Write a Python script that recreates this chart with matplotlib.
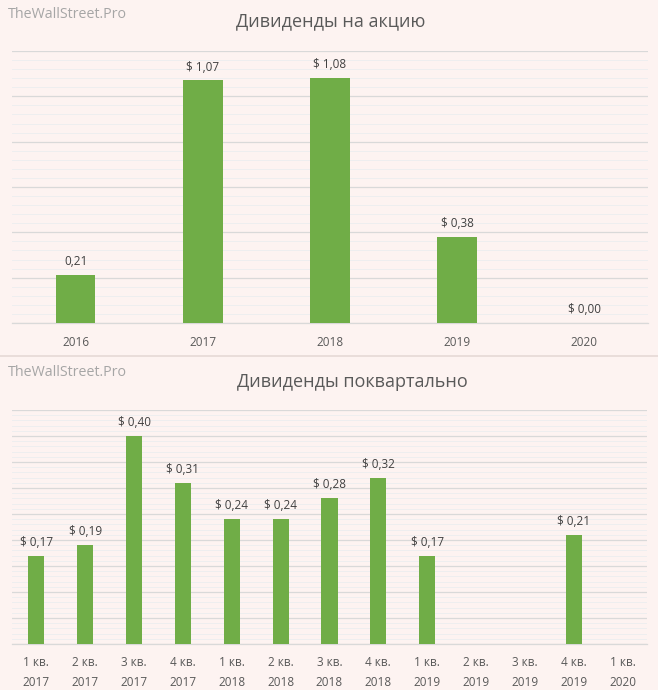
import matplotlib
matplotlib.use("Agg")
import matplotlib.pyplot as plt
from matplotlib.ticker import MultipleLocator
from matplotlib.lines import Line2D

plt.rcParams['font.family'] = ['Open Sans', 'DejaVu Sans']

# ---- data ----
years = ["2016", "2017", "2018", "2019", "2020"]
annual_values = [0.21, 1.07, 1.08, 0.38, 0.00]
annual_labels = ["0,21", "$ 1,07", "$ 1,08", "$ 0,38", "$ 0,00"]

quarters = ["1 кв.\n2017", "2 кв.\n2017", "3 кв.\n2017", "4 кв.\n2017",
            "1 кв.\n2018", "2 кв.\n2018", "3 кв.\n2018", "4 кв.\n2018",
            "1 кв.\n2019", "2 кв.\n2019", "3 кв.\n2019", "4 кв.\n2019",
            "1 кв.\n2020"]
quarter_values = [0.17, 0.19, 0.40, 0.31, 0.24, 0.24, 0.28, 0.32, 0.17,
                  None, None, 0.21, None]
quarter_labels = ["$ 0,17", "$ 0,19", "$ 0,40", "$ 0,31", "$ 0,24", "$ 0,24",
                  "$ 0,28", "$ 0,32", "$ 0,17", "", "", "$ 0,21", ""]

BG = "#FDF3F1"
GREEN = "#70AD47"
MAJOR = "#D9D9D9"
MINOR = "#EEEEEF"
TXT = "#595959"
LBL = "#404040"
WM = "#A6A6A6"

W, H = 658, 690
fig = plt.figure(figsize=(W / 100, H / 100), dpi=100, facecolor=BG)


def ax_rect(left, top, right, bottom):
    return [left / W, 1 - bottom / H, (right - left) / W, (bottom - top) / H]


def style(ax, ymax, major, minor):
    ax.set_facecolor(BG)
    ax.set_ylim(0, ymax)
    ax.yaxis.set_major_locator(MultipleLocator(major))
    ax.yaxis.set_minor_locator(MultipleLocator(minor))
    ax.grid(True, which='minor', axis='y', color=MINOR, lw=0.7, zorder=0)
    ax.grid(True, which='major', axis='y', color=MAJOR, lw=0.9, zorder=0)
    ax.set_axisbelow(True)
    for s in ['top', 'right', 'left']:
        ax.spines[s].set_visible(False)
    ax.spines['bottom'].set_color(MAJOR)
    ax.spines['bottom'].set_linewidth(0.9)
    ax.tick_params(axis='y', which='both', left=False, labelleft=False)
    ax.tick_params(axis='x', length=0, colors=TXT, labelsize=8.5)


# ---- top chart ----
ax1 = fig.add_axes(ax_rect(12, 51, 648, 323))
style(ax1, 1.2, 0.2, 0.04)
x1 = list(range(len(years)))
ax1.bar(x1, annual_values, width=0.31, color=GREEN, zorder=3)
ax1.set_xlim(-0.5, len(years) - 0.5)
ax1.set_xticks(x1)
ax1.set_xticklabels(years)
ax1.tick_params(axis='x', pad=9)
for xi, v, t in zip(x1, annual_values, annual_labels):
    ax1.annotate(t, (xi, v), xytext=(0, 5), textcoords='offset points',
                 ha='center', va='bottom', fontsize=8.5, color=LBL)

fig.text(331 / W, 1 - 21 / H, "Дивиденды на акцию", ha='center', va='center',
         fontsize=13, color=TXT)
fig.text(8 / W, 1 - 14 / H, "TheWallStreet.Pro", ha='left', va='center',
         fontsize=10.3, color=WM)

# separator
fig.add_artist(Line2D([0, 1], [1 - 356 / H, 1 - 356 / H], color="#E6D9D6",
                      lw=1.2, transform=fig.transFigure))

# ---- bottom chart ----
ax2 = fig.add_axes(ax_rect(12, 410, 647, 644))
style(ax2, 0.45, 0.05, 0.01)
x2 = list(range(len(quarters)))
qv = [v if v is not None else 0 for v in quarter_values]
ax2.bar(x2, qv, width=0.33, color=GREEN, zorder=3)
ax2.set_xlim(-0.5, len(quarters) - 0.5)
ax2.set_xticks(x2)
ax2.set_xticklabels(quarters, linespacing=1.6)
ax2.tick_params(axis='x', pad=9)
for xi, v, t in zip(x2, qv, quarter_labels):
    if t:
        ax2.annotate(t, (xi, v), xytext=(0, 5), textcoords='offset points',
                     ha='center', va='bottom', fontsize=8.5, color=LBL)

fig.text(352 / W, 1 - 382 / H, "Дивиденды поквартально", ha='center',
         va='center', fontsize=13, color=TXT)
fig.text(8 / W, 1 - 373 / H, "TheWallStreet.Pro", ha='left', va='center',
         fontsize=10.3, color=WM)

fig.savefig("out.png", dpi=100, facecolor=BG)
